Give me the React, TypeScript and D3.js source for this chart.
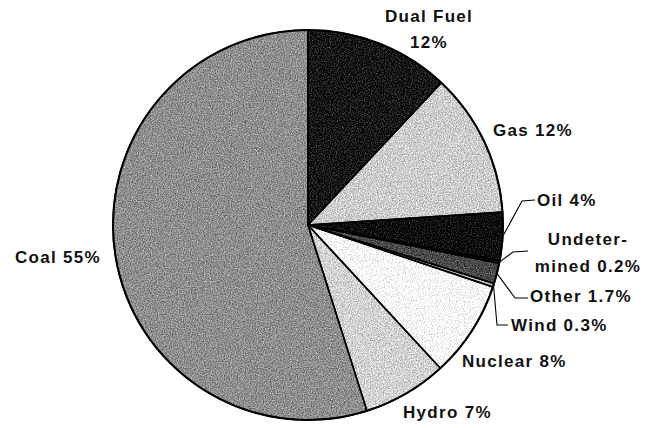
import React from 'react'
import * as d3 from 'd3'

// slices, clockwise from 12 o'clock
const sources = ['Dual Fuel', 'Gas', 'Oil', 'Undetermined', 'Other', 'Wind', 'Nuclear', 'Hydro', 'Coal']
const shares = [12, 12, 4, 0.2, 1.7, 0.3, 8, 7, 55]
const fills = ['#161616', '#cdcdcd', '#0c0c0c', '#2a2a2a', '#4a4a4a', '#bdbdbd', '#fbfbfb', '#d2d2d2', '#8e8e8e']
const labelText = [
  ['Dual Fuel', '12%'],
  ['Gas 12%'],
  ['Oil 4%'],
  ['Undeter-', 'mined 0.2%'],
  ['Other 1.7%'],
  ['Wind 0.3%'],
  ['Nuclear 8%'],
  ['Hydro 7%'],
  ['Coal 55%'],
]

// label placement (layout only)
type Place = { x: number; y: number; anchor: string; lh?: number; elbow?: [number, number][] }
const places: Place[] = [
  { x: 429, y: 22, anchor: 'middle', lh: 26 },
  { x: 493, y: 136, anchor: 'start' },
  { x: 537, y: 206, anchor: 'start', elbow: [[522, 201], [535, 200]] },
  { x: 588, y: 245, anchor: 'middle', lh: 27, elbow: [[513, 252], [528, 251]] },
  { x: 530, y: 302, anchor: 'start', elbow: [[515, 298], [528, 298]] },
  { x: 511, y: 331, anchor: 'start', elbow: [[497, 325], [508, 325]] },
  { x: 462, y: 367, anchor: 'start' },
  { x: 403, y: 418, anchor: 'start' },
  { x: 15, y: 263, anchor: 'start' },
]

export default function App() {
  const width = 645
  const height = 428
  const cx = 308
  const cy = 225
  const r = 195

  const pie = d3.pie<number>().sort(null).value(d => d)
  const arcs = pie(shares)
  const arc = d3.arc<d3.PieArcDatum<number>>().innerRadius(0).outerRadius(r)

  return (
    <svg
      width={width}
      height={height}
      viewBox={`0 0 ${width} ${height}`}
      style={{ position: 'absolute', left: 0, top: 0, background: '#fff' }}
    >
      <defs>
        {/* scanned-print speckle */}
        <filter id="speckle" x="0" y="0" width="100%" height="100%" colorInterpolationFilters="sRGB">
          <feTurbulence type="fractalNoise" baseFrequency="0.85" numOctaves={2} seed={3} result="noise" />
          <feColorMatrix
            in="noise"
            type="matrix"
            values="1 0 0 0 0  1 0 0 0 0  1 0 0 0 0  0 0 0 0 1"
            result="grey"
          />
          <feComposite in="SourceGraphic" in2="grey" operator="arithmetic" k1={0} k2={1} k3={0.7} k4={-0.35} result="mix" />
          <feComposite in="mix" in2="SourceGraphic" operator="in" />
        </filter>
      </defs>
      <g transform={`translate(${cx},${cy})`}>
        <g filter="url(#speckle)">
          {arcs.map((a, i) => (
            <path key={sources[i]} d={arc(a) || ''} fill={fills[i]} />
          ))}
        </g>
        {arcs.map((a, i) => (
          <path key={'s' + i} d={arc(a) || ''} fill="none" stroke="#000" strokeWidth={1.6} strokeLinejoin="round" />
        ))}
        <circle r={r} fill="none" stroke="#000" strokeWidth={2} />
      </g>
      {arcs.map((a, i) => {
        const p = places[i]
        if (!p.elbow) return null
        const mid = (a.startAngle + a.endAngle) / 2
        const start: [number, number] = [cx + r * Math.sin(mid), cy - r * Math.cos(mid)]
        const pts = [start, ...p.elbow]
        return (
          <path key={'l' + i} d={d3.line()(pts) || ''} fill="none" stroke="#000" strokeWidth={1.1} />
        )
      })}
      <g fontFamily="'Liberation Sans', Arial, sans-serif" fontWeight="bold" fontSize={17} letterSpacing={1.3} fill="#111">
        {labelText.map((lines, i) => {
          const p = places[i]
          return (
            <text key={'t' + i} x={p.x} y={p.y} textAnchor={p.anchor}>
              {lines.map((s, j) => (
                <tspan key={j} x={p.x} y={p.y + j * (p.lh || 0)}>
                  {s}
                </tspan>
              ))}
            </text>
          )
        })}
      </g>
    </svg>
  )
}
